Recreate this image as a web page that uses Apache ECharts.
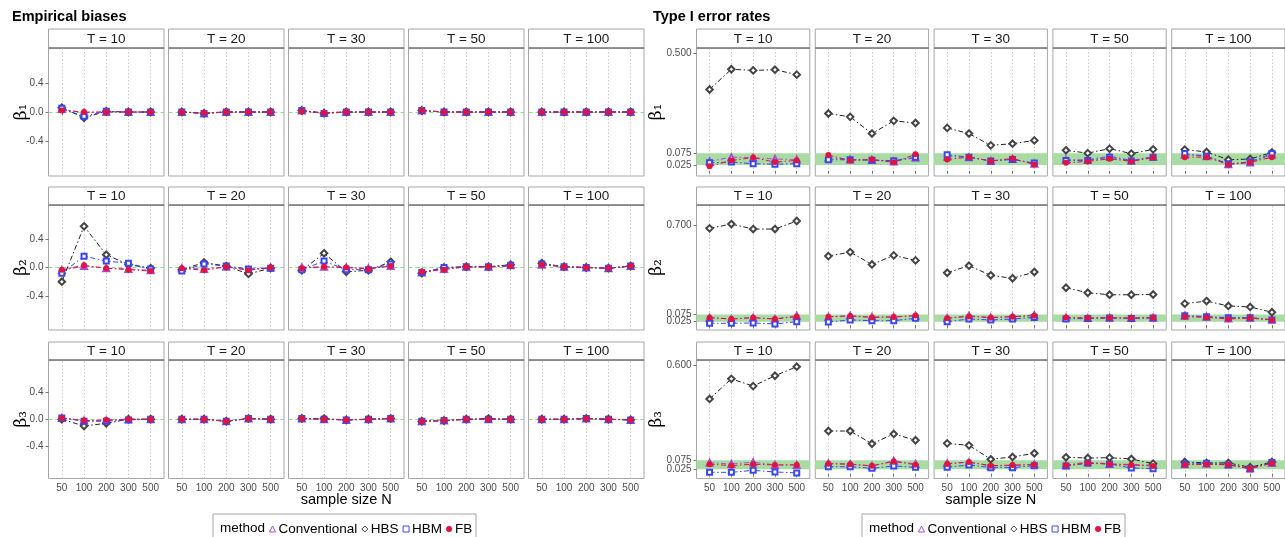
<!DOCTYPE html>
<html>
<head>
<meta charset="utf-8">
<script src="https://cdn.jsdelivr.net/npm/echarts@6/dist/echarts.min.js"></script>
<style>
  html, body { margin: 0; padding: 0; background: #fff; }
  #chart { width: 1285px; height: 537px; }
</style>
</head>
<body>
<div id="chart"></div>
<script>
const sampleSizes = ["50", "100", "200", "300", "500"];
const periods = ["T = 10", "T = 20", "T = 30", "T = 50", "T = 100"];
const methods = ["Conventional", "HBS", "HBM", "FB"];
const paramLabels = ["β₁", "β₂", "β₃"];

// empirical biases, one row per T (10, 20, 30, 50, 100), columns N = 50..500
const biasB1Conventional = [
  [0.04, -0.01, 0.0, 0.0, 0.0],
  [0.0, -0.02, 0.0, 0.0, 0.0],
  [0.02, -0.01, 0.0, 0.0, 0.0],
  [0.02, 0.0, 0.0, 0.0, 0.0],
  [0.0, 0.0, 0.0, 0.0, 0.0],
];
const biasB1HBS = [
  [0.06, -0.08, 0.01, 0.0, 0.0],
  [0.0, -0.02, 0.0, 0.0, 0.0],
  [0.02, -0.02, 0.0, 0.0, 0.0],
  [0.02, 0.0, 0.0, 0.0, 0.0],
  [0.0, 0.0, 0.0, 0.0, 0.0],
];
const biasB1HBM = [
  [0.05, -0.06, 0.01, 0.0, 0.0],
  [0.0, -0.02, 0.0, 0.0, 0.0],
  [0.02, -0.02, 0.0, 0.0, 0.0],
  [0.02, 0.0, 0.0, 0.0, 0.0],
  [0.0, 0.0, 0.0, 0.0, 0.0],
];
const biasB1FB = [
  [0.02, 0.0, 0.0, 0.0, 0.0],
  [0.0, -0.01, 0.0, 0.0, 0.0],
  [0.01, -0.01, 0.0, 0.0, 0.0],
  [0.02, 0.0, 0.0, 0.0, 0.0],
  [0.0, 0.0, 0.0, 0.0, 0.0],
];

const biasB2Conventional = [
  [-0.04, 0.02, -0.01, -0.02, -0.04],
  [-0.01, -0.02, 0.01, -0.03, 0.0],
  [0.0, 0.01, 0.0, -0.01, 0.02],
  [-0.07, -0.02, 0.01, 0.01, 0.03],
  [0.04, 0.01, 0.0, -0.01, 0.02],
];
const biasB2HBS = [
  [-0.2, 0.58, 0.18, 0.04, -0.01],
  [-0.03, 0.07, 0.02, -0.09, -0.01],
  [-0.04, 0.2, -0.06, -0.04, 0.08],
  [-0.08, 0.0, 0.01, 0.01, 0.04],
  [0.06, 0.01, 0.0, -0.01, 0.02],
];
const biasB2HBM = [
  [-0.08, 0.16, 0.09, 0.06, -0.02],
  [-0.05, 0.05, 0.02, -0.02, -0.01],
  [-0.03, 0.09, -0.03, -0.03, 0.05],
  [-0.07, 0.0, 0.01, 0.01, 0.03],
  [0.05, 0.01, 0.0, -0.01, 0.02],
];
const biasB2FB = [
  [-0.03, 0.03, -0.01, -0.03, -0.05],
  [-0.01, -0.04, 0.01, -0.04, 0.0],
  [-0.01, 0.01, 0.0, -0.02, 0.02],
  [-0.06, -0.03, 0.01, 0.01, 0.02],
  [0.04, 0.01, 0.0, -0.01, 0.02],
];

const biasB3Conventional = [
  [0.02, -0.02, -0.02, 0.0, 0.0],
  [0.0, 0.0, -0.03, 0.01, 0.0],
  [0.01, 0.0, -0.01, 0.0, 0.01],
  [-0.03, -0.02, 0.0, 0.0, 0.0],
  [0.0, 0.0, 0.01, 0.0, -0.01],
];
const biasB3HBS = [
  [0.0, -0.1, -0.06, 0.0, 0.0],
  [0.0, 0.0, -0.03, 0.01, 0.0],
  [0.01, 0.01, -0.01, 0.0, 0.01],
  [-0.03, -0.02, 0.0, 0.01, 0.0],
  [0.0, 0.0, 0.01, 0.0, -0.01],
];
const biasB3HBM = [
  [0.02, -0.03, -0.03, -0.01, 0.0],
  [0.0, 0.0, -0.03, 0.01, 0.0],
  [0.01, 0.0, -0.01, 0.0, 0.01],
  [-0.03, -0.02, 0.0, 0.0, 0.0],
  [0.0, 0.0, 0.01, 0.0, -0.01],
];
const biasB3FB = [
  [0.02, -0.02, -0.01, 0.0, 0.0],
  [0.0, 0.0, -0.03, 0.01, 0.0],
  [0.01, 0.0, -0.01, 0.0, 0.01],
  [-0.03, -0.02, 0.0, 0.0, 0.0],
  [0.0, 0.0, 0.01, 0.0, -0.01],
];

// type I error rates
const errB1Conventional = [
  [0.04, 0.058, 0.056, 0.05, 0.048],
  [0.055, 0.048, 0.046, 0.04, 0.055],
  [0.06, 0.058, 0.042, 0.05, 0.03],
  [0.047, 0.047, 0.062, 0.044, 0.06],
  [0.068, 0.062, 0.028, 0.035, 0.068],
];
const errB1HBS = [
  [0.345, 0.431, 0.426, 0.429, 0.408],
  [0.243, 0.229, 0.158, 0.212, 0.203],
  [0.182, 0.158, 0.108, 0.115, 0.129],
  [0.087, 0.075, 0.094, 0.073, 0.091],
  [0.09, 0.08, 0.047, 0.05, 0.078],
];
const errB1HBM = [
  [0.034, 0.037, 0.03, 0.028, 0.03],
  [0.047, 0.047, 0.045, 0.043, 0.058],
  [0.068, 0.058, 0.042, 0.048, 0.033],
  [0.044, 0.044, 0.058, 0.042, 0.058],
  [0.073, 0.062, 0.03, 0.038, 0.073],
];
const errB1FB = [
  [0.019, 0.044, 0.056, 0.037, 0.044],
  [0.067, 0.044, 0.048, 0.036, 0.07],
  [0.048, 0.058, 0.042, 0.052, 0.027],
  [0.034, 0.04, 0.051, 0.04, 0.056],
  [0.058, 0.058, 0.027, 0.036, 0.058],
];

const errB2Conventional = [
  [0.053, 0.044, 0.053, 0.044, 0.067],
  [0.058, 0.067, 0.058, 0.058, 0.067],
  [0.049, 0.067, 0.055, 0.06, 0.072],
  [0.053, 0.05, 0.053, 0.05, 0.053],
  [0.067, 0.06, 0.048, 0.053, 0.04],
];
const errB2HBS = [
  [0.677, 0.707, 0.672, 0.672, 0.728],
  [0.483, 0.511, 0.425, 0.488, 0.453],
  [0.367, 0.416, 0.349, 0.328, 0.372],
  [0.262, 0.227, 0.213, 0.213, 0.215],
  [0.151, 0.169, 0.135, 0.128, 0.091],
];
const errB2HBM = [
  [0.014, 0.014, 0.016, 0.009, 0.025],
  [0.023, 0.037, 0.032, 0.032, 0.049],
  [0.025, 0.044, 0.037, 0.044, 0.055],
  [0.044, 0.048, 0.05, 0.048, 0.05],
  [0.067, 0.06, 0.053, 0.053, 0.037],
];
const errB2FB = [
  [0.053, 0.044, 0.053, 0.044, 0.06],
  [0.06, 0.065, 0.055, 0.058, 0.068],
  [0.049, 0.062, 0.053, 0.06, 0.067],
  [0.055, 0.05, 0.053, 0.05, 0.053],
  [0.06, 0.055, 0.044, 0.05, 0.037],
];

const errB3Conventional = [
  [0.061, 0.054, 0.064, 0.049, 0.049],
  [0.058, 0.054, 0.043, 0.072, 0.054],
  [0.058, 0.064, 0.043, 0.046, 0.053],
  [0.047, 0.065, 0.054, 0.052, 0.048],
  [0.052, 0.056, 0.052, 0.03, 0.06],
];
const errB3HBS = [
  [0.413, 0.524, 0.484, 0.541, 0.591],
  [0.236, 0.236, 0.166, 0.22, 0.185],
  [0.168, 0.157, 0.08, 0.093, 0.113],
  [0.091, 0.087, 0.089, 0.082, 0.056],
  [0.065, 0.06, 0.06, 0.036, 0.065],
];
const errB3HBM = [
  [0.008, 0.008, 0.019, 0.01, 0.005],
  [0.039, 0.039, 0.03, 0.043, 0.036],
  [0.036, 0.049, 0.034, 0.034, 0.045],
  [0.043, 0.058, 0.054, 0.032, 0.028],
  [0.054, 0.058, 0.049, 0.027, 0.062],
];
const errB3FB = [
  [0.053, 0.045, 0.053, 0.049, 0.049],
  [0.056, 0.052, 0.044, 0.068, 0.05],
  [0.054, 0.065, 0.045, 0.048, 0.05],
  [0.047, 0.06, 0.054, 0.048, 0.043],
  [0.05, 0.052, 0.05, 0.029, 0.058],
];

// y tick labels; the close 0.075 label goes on its own overlay axis
const biasTicks = [-0.4, 0, 0.4];
const errTicks = [
  [0.025, 0.5],
  [0.025, 0.7],
  [0.025, 0.6],
];
const errExtraTick = 0.075;

const biasData = [
  { Conventional: biasB1Conventional, HBS: biasB1HBS, HBM: biasB1HBM, FB: biasB1FB },
  { Conventional: biasB2Conventional, HBS: biasB2HBS, HBM: biasB2HBM, FB: biasB2FB },
  { Conventional: biasB3Conventional, HBS: biasB3HBS, HBM: biasB3HBM, FB: biasB3FB },
];
const errData = [
  { Conventional: errB1Conventional, HBS: errB1HBS, HBM: errB1HBM, FB: errB1FB },
  { Conventional: errB2Conventional, HBS: errB2HBS, HBM: errB2HBM, FB: errB2FB },
  { Conventional: errB3Conventional, HBS: errB3HBS, HBM: errB3HBM, FB: errB3FB },
];

const methodStyle = {
  Conventional: { color: "#a64fd6", symbol: "emptyTriangle", size: 6, z: 2, border: 1 },
  HBS: { color: "#444444", symbol: "emptyDiamond", size: 6.5, z: 3, border: 0.8 },
  HBM: { color: "#3a47ee", symbol: "emptyRect", size: 5, z: 4, border: 1 },
  FB: { color: "#e3123f", symbol: "circle", size: 6, z: 5, border: 1 },
};

const FONT = "'Liberation Sans', Arial, sans-serif";
const stripTop = [29, 187, 342];
const panelTop = [48, 205, 360];
const panelHeight = [128, 125, 118.5];

const panels = [
  {
    title: "Empirical biases",
    titleX: 12,
    colLeft: [48.5, 168.5, 288.5, 408.5, 528.5],
    colWidth: 115.5,
    data: biasData,
    yMin: [-0.88, -0.88, -0.88],
    yMax: [0.88, 0.88, 0.88],
    ticks: [biasTicks, biasTicks, biasTicks],
    digits: 1,
    nameGap: 18,
    isBias: true,
  },
  {
    title: "Type I error rates",
    titleX: 653,
    colLeft: [696.5, 815.3, 934.1, 1052.9, 1171.7],
    colWidth: 113.3,
    data: errData,
    yMin: [-0.022, -0.033, -0.026],
    yMax: [0.521, 0.84, 0.628],
    ticks: errTicks,
    digits: 3,
    nameGap: 31,
    isBias: false,
  },
];

let grids = [];
let xAxes = [];
let yAxes = [];
let extraYAxes = [];
let series = [];
let graphics = [];

function yLabelStyle(values, digits) {
  return {
    show: true,
    customValues: values,
    hideOverlap: false,
    showMinLabel: true,
    showMaxLabel: true,
    margin: 5,
    fontSize: 10,
    fontFamily: FONT,
    color: "#4d4d4d",
    formatter: (v) => v.toFixed(digits),
  };
}

panels.forEach((p) => {
  graphics.push({
    type: "text",
    left: p.titleX,
    top: 9,
    style: { text: p.title, font: "bold 14.5px " + FONT, fill: "#000" },
  });
  let midX = (p.colLeft[0] + p.colLeft[4] + p.colWidth) / 2;
  graphics.push({
    type: "text",
    x: midX,
    y: 500,
    style: {
      text: "sample size N",
      font: "14.5px " + FONT,
      fill: "#000",
      align: "center",
      verticalAlign: "middle",
    },
  });

  for (let r = 0; r < 3; r++) {
    for (let c = 0; c < 5; c++) {
      let gi = grids.length;
      let x = p.colLeft[c];
      grids.push({
        left: x,
        top: panelTop[r],
        width: p.colWidth,
        height: panelHeight[r],
        show: true,
        borderColor: "#a6a6a6",
        borderWidth: 1,
        backgroundColor: "transparent",
        outerBoundsMode: "none",
      });
      xAxes.push({
        type: "value",
        gridIndex: gi,
        min: 0.4,
        max: 5.6,
        axisLine: { show: false },
        axisTick: {
          show: true,
          length: 3,
          customValues: [1, 2, 3, 4, 5],
          lineStyle: { color: "#555", width: 0.8 },
        },
        axisLabel: {
          show: r == 2,
          customValues: [1, 2, 3, 4, 5],
          margin: 5,
          fontSize: 10,
          fontFamily: FONT,
          color: "#4d4d4d",
          formatter: (v) => sampleSizes[Math.round(v) - 1] || "",
        },
        splitLine: { show: false },
      });
      let yLab = yLabelStyle(p.ticks[r], p.digits);
      yLab.show = c == 0;
      yAxes.push({
        type: "value",
        gridIndex: gi,
        min: p.yMin[r],
        max: p.yMax[r],
        name: c == 0 ? paramLabels[r] : "",
        nameLocation: "middle",
        nameRotate: 90,
        nameGap: p.nameGap,
        nameMoveOverlap: false,
        nameTextStyle: { fontFamily: "'DejaVu Serif', serif", fontSize: 17, color: "#000" },
        axisLine: { show: false },
        axisTick: {
          show: c == 0,
          length: 3,
          customValues: p.ticks[r],
          lineStyle: { color: "#555", width: 0.8 },
        },
        axisLabel: yLab,
        splitLine: { show: false },
      });
      if (!p.isBias && c == 0) {
        extraYAxes.push({
          type: "value",
          gridIndex: gi,
          position: "left",
          min: p.yMin[r],
          max: p.yMax[r],
          axisLine: { show: false },
          axisTick: {
            show: true,
            length: 3,
            customValues: [errExtraTick],
            lineStyle: { color: "#555", width: 0.8 },
          },
          axisLabel: yLabelStyle([errExtraTick], p.digits),
          splitLine: { show: false },
        });
      }

      // strip on top of every panel
      graphics.push({
        type: "rect",
        shape: { x: x, y: stripTop[r], width: p.colWidth, height: panelTop[r] - stripTop[r] },
        style: { fill: "#fff", stroke: "#a6a6a6", lineWidth: 1 },
      });
      graphics.push({
        type: "line",
        shape: { x1: x, y1: panelTop[r], x2: x + p.colWidth, y2: panelTop[r] },
        style: { stroke: "#555", lineWidth: 1 },
      });
      graphics.push({
        type: "text",
        x: x + p.colWidth / 2,
        y: (stripTop[r] + panelTop[r]) / 2 + 0.5,
        style: {
          text: periods[c],
          font: "13.5px " + FONT,
          fill: "#1a1a1a",
          align: "center",
          verticalAlign: "middle",
        },
      });

      methods.forEach((m, k) => {
        let st = methodStyle[m];
        let vals = p.data[r][m][c];
        let s = {
          name: m,
          type: "line",
          xAxisIndex: gi,
          yAxisIndex: gi,
          data: vals.map((v, i) => [i + 1, v]),
          symbol: st.symbol,
          symbolSize: st.size,
          showSymbol: true,
          z: st.z,
          itemStyle: { color: st.color, borderWidth: st.border },
          lineStyle: { color: m == "HBS" ? "#222" : st.color, width: 1, type: [5, 2.5, 1.5, 2.5] },
          emphasis: { disabled: true },
        };
        if (k == 0) {
          // dotted vertical grid lines at each sample size
          s.markLine = {
            silent: true,
            symbol: "none",
            z: 0,
            label: { show: false },
            lineStyle: { color: "#cccccc", type: [1.5, 2], width: 1 },
            data: sampleSizes.map((n, i) => ({ xAxis: i + 1 })),
          };
        }
        if (k == 1 && p.isBias) {
          s.markLine = {
            silent: true,
            symbol: "none",
            z: 1,
            label: { show: false },
            lineStyle: { color: "#93d893", type: [4, 3], width: 1 },
            data: [{ yAxis: 0 }],
          };
        }
        if (k == 1 && !p.isBias) {
          s.markArea = {
            silent: true,
            z: 1,
            itemStyle: { color: "#a9dca3" },
            data: [[{ yAxis: 0.025 }, { yAxis: 0.075 }]],
          };
        }
        series.push(s);
      });
    }
  }
});

// legend boxes and "method" titles
[0, 649].forEach((dx) => {
  graphics.push({
    type: "rect",
    shape: { x: 213 + dx, y: 514, width: 263, height: 30 },
    style: { fill: "#fff", stroke: "#a6a6a6", lineWidth: 1 },
  });
  graphics.push({
    type: "text",
    x: 220 + dx,
    y: 528,
    style: { text: "method", font: "13.5px " + FONT, fill: "#000", verticalAlign: "middle" },
  });
});

function legendData() {
  return methods.map((m) => {
    let st = methodStyle[m];
    let hollow = m != "FB";
    return {
      name: m,
      icon: st.symbol.replace("empty", "").toLowerCase(),
      itemStyle: hollow
        ? { color: "#fff", borderColor: st.color, borderWidth: 1 }
        : { color: st.color, borderWidth: 0 },
    };
  });
}

const legends = [264, 913].map((lx) => ({
  left: lx,
  top: 517,
  orient: "horizontal",
  itemWidth: 6,
  itemHeight: 6,
  itemGap: 4,
  selectedMode: false,
  textStyle: { fontSize: 13.5, fontFamily: FONT, color: "#000", padding: [0, 0, 0, -2] },
  data: legendData(),
  z: 10,
}));

const chart = echarts.init(document.getElementById("chart"));
chart.setOption({
  animation: false,
  backgroundColor: "#fff",
  grid: grids,
  xAxis: xAxes,
  yAxis: yAxes.concat(extraYAxes),
  series: series,
  legend: legends,
  graphic: graphics,
});
</script>
</body>
</html>
